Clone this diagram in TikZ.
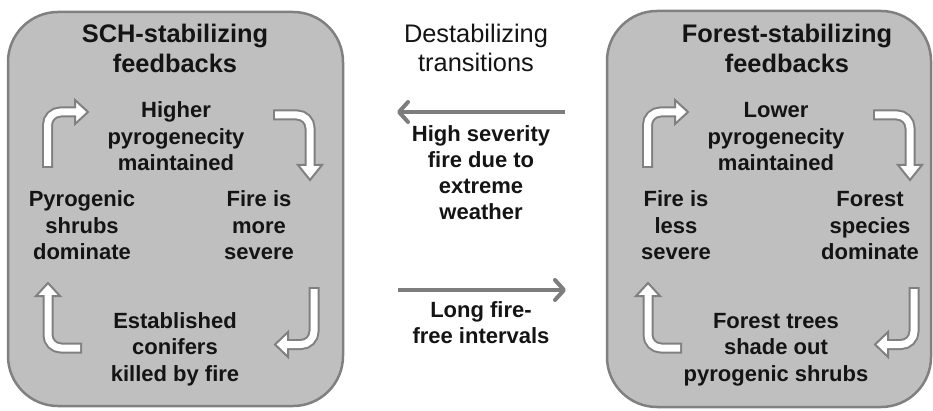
\documentclass[tikz,border=0pt]{standalone}
\usepackage{fontspec}
\setmainfont{Liberation Sans}
\usetikzlibrary{arrows.meta}
\definecolor{boxfill}{RGB}{191,191,191}
\definecolor{boxline}{RGB}{128,128,128}
\definecolor{arrline}{RGB}{125,125,125}
\definecolor{txt}{RGB}{20,20,20}
\tikzset{
  fbox/.style={draw=boxline, line width=2.5pt, fill=boxfill, rounded corners=50pt, inner sep=0pt},
  body/.style={align=center, anchor=base, inner sep=0pt, text=txt,
    font=\fontsize{22}{26.5}\selectfont\bfseries},
  title/.style={align=center, anchor=base, inner sep=0pt, text=txt,
    font=\fontsize{25.4}{30}\selectfont\bfseries},
  midtitle/.style={align=center, anchor=base, inner sep=0pt, text=txt,
    font=\fontsize{25.4}{29}\selectfont},
  midtext/.style={align=center, anchor=base, inner sep=0pt, text=txt,
    font=\fontsize{22}{26}\selectfont\bfseries},
  shaftout/.style={draw=boxline, line width=11pt, rounded corners=13pt},
  shaftin/.style={draw=white, line width=7pt, rounded corners=13pt},
  headst/.style={draw=boxline, fill=white, line width=2pt, line join=miter},
  trans/.style={draw=arrline, line width=4pt, -{Straight Barb[length=9pt,width=20pt,round]}}
}
\newcommand\loopArrows{%
  % top-left: up then right
  \draw[shaftout] (47.5,168) |- (76,112);
  \filldraw[headst] (75,100) -- (88,112) -- (75,124) -- cycle;
  \draw[shaftin] (47.5,166) |- (77.5,112);
  % top-right: right then down
  \draw[shaftout] (273,115) -| (310,166);
  \filldraw[headst] (298,165) -- (310,180) -- (322,165) -- cycle;
  \draw[shaftin] (275,115) -| (310,167.5);
  % bottom-right: down then left
  \draw[shaftout] (314,287) |- (287,344.5);
  \filldraw[headst] (288,332) -- (275,344.5) -- (288,357) -- cycle;
  \draw[shaftin] (314,289) |- (285.5,344.5);
  % bottom-left: right end, left, then up
  \draw[shaftout] (82,348) -| (48,295);
  \filldraw[headst] (36,296) -- (48,283) -- (60,296) -- cycle;
  \draw[shaftin] (80,348) -| (48,293.5);
}
\begin{document}
\begin{tikzpicture}[x=1pt,y=-1pt]
\useasboundingbox (0,0) rectangle (933,411);
% boxes
\node[fbox, minimum width=335pt, minimum height=394pt] (schbox) at (175.5,209) {};
\node[fbox, minimum width=324pt, minimum height=396pt] (forbox) at (769,209) {};
% feedback loop arrows
\loopArrows
\begin{scope}[xshift=600pt]
\loopArrows
\end{scope}
% left box texts (anchor = baseline of last line)
\node[title] (schtitle) at (175,73) {SCH-stabilizing\\feedbacks};
\node[body] (schtop) at (176,171) {Higher\\pyrogenecity\\maintained};
\node[body] (schleft) at (82,260) {Pyrogenic\\shrubs\\dominate};
\node[body] (schright) at (259,260) {Fire is\\more\\severe};
\node[body] (schbottom) at (175,381) {Established\\conifers\\killed by fire};
% right box texts
\node[title] (fortitle) at (787,73) {Forest-stabilizing\\feedbacks};
\node[body] (fortop) at (776,171) {Lower\\pyrogenecity\\maintained};
\node[body] (forleft) at (676,260) {Fire is\\less\\severe};
\node[body] (forright) at (870,260) {Forest\\species\\dominate};
\node[body] (forbottom) at (776,381) {Forest trees\\shade out\\pyrogenic shrubs};
% middle
\node[midtitle] (midtitle) at (476,72) {Destabilizing\\transitions};
\coordinate (hsfrom) at (565,112);
\coordinate (hsto) at (397,112);
\draw[trans] (hsfrom) -- (hsto);
\node[midtext] (hslabel) at (481,220) {High severity\\fire due to\\extreme\\weather};
\coordinate (lffrom) at (398,290);
\coordinate (lfto) at (566,290);
\draw[trans] (lffrom) -- (lfto);
\node[midtext] (lflabel) at (481,343) {Long fire-\\free intervals};
\end{tikzpicture}
\end{document}
